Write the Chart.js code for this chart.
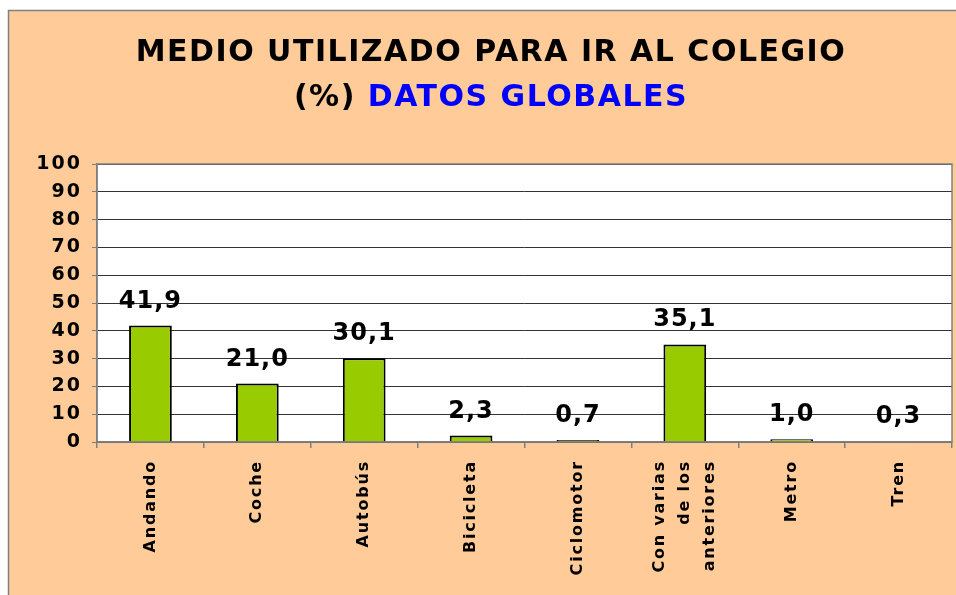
<!DOCTYPE html>
<html lang="es">
<head>
  <meta charset="UTF-8">
  <title>Medio utilizado para ir al colegio</title>
  <script src="https://cdn.jsdelivr.net/npm/chart.js"></script>
  <style>
    body {
      margin: 0;
      background: #fff;
      font-family: 'DejaVu Sans', sans-serif;
    }
    .wrap {
      position: relative;
      width: 956px;
      height: 595px;
    }
    .title {
      position: absolute;
      left: 0;
      top: 28px;
      width: 982px;
      text-align: center;
      font-weight: bold;
      font-size: 30px;
      letter-spacing: 1.5px;
      line-height: 45px;
      color: #000;
    }
    .title .blue { color: #0000ff; }
  </style>
</head>
<body>

<div class="wrap">
  <canvas id="chart" width="956" height="595"></canvas>
  <div class="title">MEDIO UTILIZADO PARA IR AL COLEGIO<br>(%) <span class="blue">DATOS GLOBALES</span></div>
</div>

<script>
const categories = ['Andando', 'Coche', 'Autobús', 'Bicicleta', 'Ciclomotor',
  ['Con varias', 'de los', 'anteriores'], 'Metro', 'Tren'];
const values = [41.9, 21.0, 30.1, 2.3, 0.7, 35.1, 1.0, 0.3];
const yTicks = [0, 10, 20, 30, 40, 50, 60, 70, 80, 90, 100];

const peach = '#ffcc99';

// background frame, white plot area, border round the plot
const framePlugin = {
  id: 'frame',
  beforeDraw(chart) {
    const ctx = chart.ctx;
    const a = chart.chartArea;
    ctx.save();
    ctx.fillStyle = peach;
    ctx.fillRect(8, 10, chart.width - 8, chart.height - 10);
    ctx.strokeStyle = '#808080';
    ctx.lineWidth = 1.5;
    ctx.beginPath();
    ctx.moveTo(8.5, chart.height);
    ctx.lineTo(8.5, 10.5);
    ctx.lineTo(chart.width, 10.5);
    ctx.stroke();
    ctx.fillStyle = '#fff';
    ctx.fillRect(a.left, a.top, a.right - a.left, a.bottom - a.top);
    ctx.restore();
    // old Excel text is spaced out a bit
    ctx.letterSpacing = '2px';
  },
  afterDraw(chart) {
    const ctx = chart.ctx;
    const a = chart.chartArea;
    ctx.save();
    ctx.strokeStyle = '#808080';
    ctx.lineWidth = 1.5;
    ctx.strokeRect(a.left, a.top, a.right - a.left, a.bottom - a.top);
    ctx.restore();
    ctx.letterSpacing = '0px';
  }
};

// value labels above bars + rotated category labels under the axis
const textPlugin = {
  id: 'texts',
  afterDatasetsDraw(chart) {
    const ctx = chart.ctx;
    const meta = chart.getDatasetMeta(0);
    const xs = chart.scales.x;
    ctx.save();
    ctx.fillStyle = '#000';

    ctx.font = 'bold 24px "DejaVu Sans"';
    ctx.letterSpacing = '1px';
    ctx.textAlign = 'center';
    ctx.textBaseline = 'alphabetic';
    meta.data.forEach((bar, i) => {
      ctx.fillText(values[i].toFixed(1).replace('.', ','), bar.x, bar.y - 18);
    });

    ctx.font = 'bold 16px "DejaVu Sans"';
    ctx.letterSpacing = '1.8px';
    ctx.textAlign = 'right';
    ctx.textBaseline = 'middle';
    const top = xs.top + 18;
    categories.forEach((cat, i) => {
      const lines = Array.isArray(cat) ? cat : [cat];
      const cx = xs.getPixelForTick(i);
      lines.forEach((line, j) => {
        ctx.save();
        ctx.translate(cx + (j - (lines.length - 1) / 2) * 25, top);
        ctx.rotate(-Math.PI / 2);
        ctx.fillText(line, 0, 0);
        ctx.restore();
      });
    });
    ctx.restore();
  }
};

new Chart(document.getElementById('chart'), {
  type: 'bar',
  data: {
    labels: categories,
    datasets: [{
      data: values,
      backgroundColor: '#99cc00',
      borderColor: '#000',
      borderWidth: 2,
      barPercentage: 0.4,
      categoryPercentage: 1
    }]
  },
  options: {
    responsive: false,
    animation: false,
    layout: { padding: { left: 0, top: 164, right: 4, bottom: 0 } },
    plugins: {
      legend: { display: false },
      tooltip: { enabled: false }
    },
    scales: {
      x: {
        afterFit: s => { s.height = 153; },
        grid: {
          offset: true,
          drawOnChartArea: false,
          tickLength: 6,
          color: '#808080',
          lineWidth: 1.5
        },
        border: { color: '#808080', width: 1.5 },
        ticks: { display: false }
      },
      y: {
        min: 0,
        max: 100,
        afterFit: s => { s.width = 97; },
        afterBuildTicks: s => { s.ticks = yTicks.map(v => ({ value: v })); },
        grid: {
          color: '#333',
          lineWidth: 1,
          tickLength: 5,
          tickColor: '#808080'
        },
        border: { color: '#808080', width: 1.5 },
        ticks: {
          padding: 10,
          color: '#000',
          font: { family: 'DejaVu Sans', weight: 'bold', size: 19 }
        }
      }
    }
  },
  plugins: [framePlugin, textPlugin]
});
</script>

</body>
</html>
